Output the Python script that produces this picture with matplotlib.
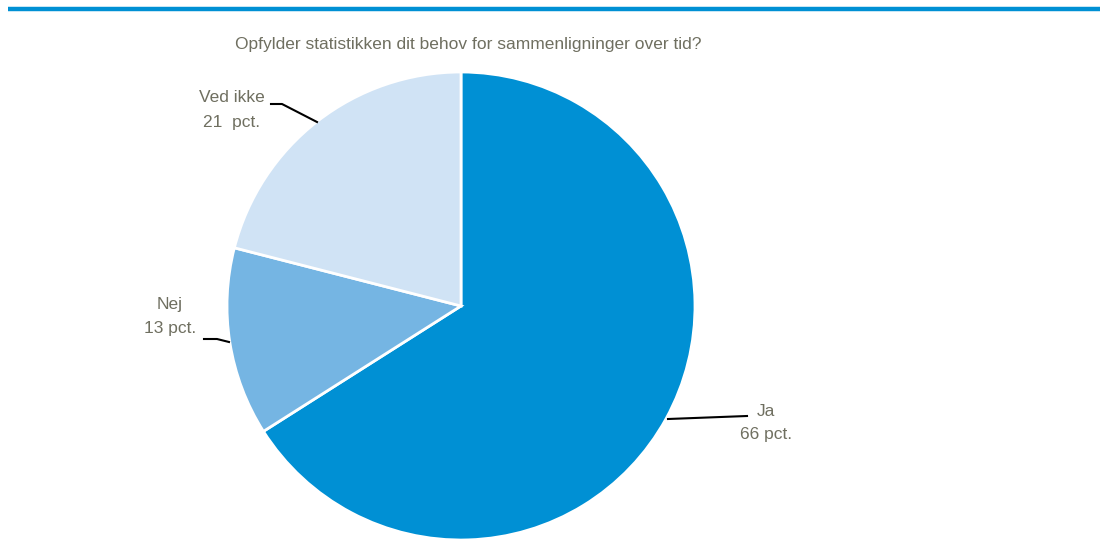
import matplotlib
matplotlib.use("Agg")
import matplotlib.pyplot as plt

categories = ["Ja", "Nej", "Ved ikke"]
values = [66, 13, 21]
colors = ["#0090D4", "#75B5E3", "#D0E3F5"]
title = "Opfylder statistikken dit behov for sammenligninger over tid?"

W, H = 1108, 540
fig = plt.figure(figsize=(W / 100, H / 100), dpi=100)
ax = fig.add_axes([0, 0, 1, 1])
ax.set_xlim(0, W)
ax.set_ylim(0, H)
ax.set_aspect("equal")
ax.axis("off")

cx, cy, r = 461, H - 306, 234
ax.pie(values, colors=colors, startangle=90, counterclock=False,
       center=(cx, cy), radius=r, frame=True,
       wedgeprops=dict(edgecolor="white", linewidth=2))
ax.set_xlim(0, W)
ax.set_ylim(0, H)
ax.axis("off")

# top rule
ax.plot([8, 1100], [H - 9, H - 9], color="#0090D4", lw=3.2, solid_capstyle="butt")

tc = "#6F6F60"
fam = ["Liberation Sans Narrow", "Liberation Sans", "DejaVu Sans"]
ax.text(468, H - 45, title, ha="center", va="center", fontsize=12.5, color=tc, family=fam)

lab = {"Ja": (766, 423, "center"), "Nej": (170, 316, "center"), "Ved ikke": (232, 110, "center")}
for c, v in zip(categories, values):
    x, y, ha = lab[c]
    sep = "  " if c == "Ved ikke" else " "
    ax.text(x, H - y, f"{c}\n{v}{sep}pct.", ha=ha, va="center", fontsize=12.5,
            color=tc, family=fam, linespacing=1.75)

# leader lines
ax.plot([668, 747], [H - 419, H - 416], color="black", lw=1.5)
ax.plot([204, 217, 229], [H - 339, H - 339, H - 342], color="black", lw=1.5)
ax.plot([271, 282, 317], [H - 104, H - 104, H - 122], color="black", lw=1.5)

fig.savefig("out.png", dpi=100)
